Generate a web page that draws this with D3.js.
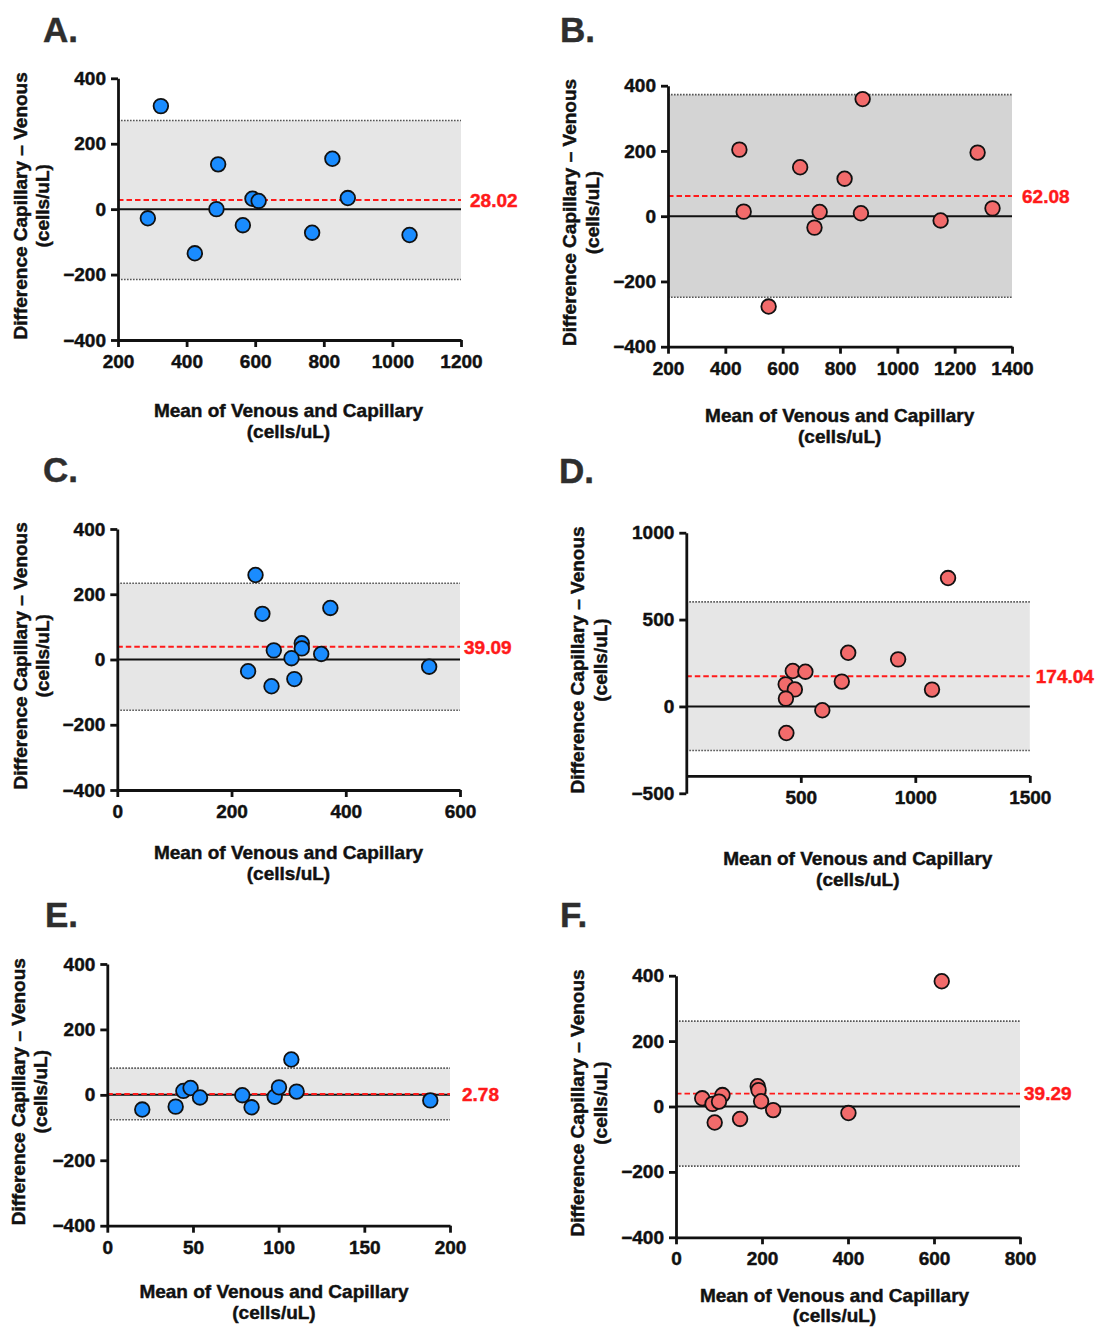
<!DOCTYPE html>
<html><head><meta charset="utf-8">
<script src="https://cdn.jsdelivr.net/npm/d3@7"></script>
<style>
html,body{margin:0;padding:0;background:#fff;}
svg text{font-family:"Liberation Sans",Arial,Helvetica,sans-serif;font-weight:bold;}
</style></head><body>
<svg id="fig" width="1102" height="1337"></svg>
<script>
// ---------------- DATA ----------------
const panelLetters = ["A.", "B.", "C.", "D.", "E.", "F."];
const xTitleLines = ["Mean of Venous and Capillary", "(cells/uL)"];
const yTitleLines = ["Difference Capillary \u2013 Venous", "(cells/uL)"];

// x = mean of venous & capillary, y = difference capillary - venous
const aMeans = [287, 325, 424, 492, 487, 564, 592, 610, 766, 825, 870, 1050];
const aDiffs = [-28, 315, -135, 137, 0, -49, 32, 25, -72, 154, 34, -79];
const bMeans = [449, 464, 551, 661, 711, 729, 816, 879, 873, 1151, 1280, 1332];
const bDiffs = [204, 14, -277, 150, -35, 13, 115, 359, 9, -13, 195, 24];
const cMeans = [242, 254, 373, 323, 323, 274, 305, 357, 229, 270, 310, 546];
const cDiffs = [259, 140, 158, 50, 34, 28, 4, 17, -36, -82, -60, -22];
const dMeans = [1143, 707, 925, 465, 520, 679, 434, 474, 1073, 435, 594, 437];
const dDiffs = [739, 309, 271, 204, 200, 143, 127, 98, 97, 45, -22, -153];
const eMeans = [20.4, 39.9, 44.4, 48.6, 54.1, 78.8, 84.2, 97.7, 100.2, 107.4, 110.5, 188.5];
const eDiffs = [-45, -36, 12, 21, -8, -1, -38, -6, 23, 108, 10, -17];
const fMeans = [618, 190, 192, 108, 61, 85, 100, 198, 226, 90, 149, 401];
const fDiffs = [383, 62, 50, 35, 25, 8, 15, 16, -11, -49, -38, -20];

const biasValues = [28.02, 62.08, 39.09, 174.04, 2.78, 39.29];
const biasLabels = ["28.02", "62.08", "39.09", "174.04", "2.78", "39.29"];
const upperLimits = [271, 372.7, 233.7, 602, 81.8, 261];
const lowerLimits = [-215, -248.5, -155.5, -254, -76.2, -182.4];

const xDomains = [[200, 1200], [200, 1400], [0, 600], [0, 1500], [0, 200], [0, 800]];
const yDomains = [[-400, 400], [-400, 400], [-400, 400], [-500, 1000], [-400, 400], [-400, 400]];
const xTickValues = [
  [200, 400, 600, 800, 1000, 1200],
  [200, 400, 600, 800, 1000, 1200, 1400],
  [0, 200, 400, 600],
  [500, 1000, 1500],
  [0, 50, 100, 150, 200],
  [0, 200, 400, 600, 800]
];
const yTickValues = [
  [-400, -200, 0, 200, 400],
  [-400, -200, 0, 200, 400],
  [-400, -200, 0, 200, 400],
  [-500, 0, 500, 1000],
  [-400, -200, 0, 200, 400],
  [-400, -200, 0, 200, 400]
];
const xAxisCrossing = [-400, -400, -400, -400, -400, -400];

// ---------------- LAYOUT / STYLE ----------------
const panelData = [
  [aMeans, aDiffs], [bMeans, bDiffs], [cMeans, cDiffs],
  [dMeans, dDiffs], [eMeans, eDiffs], [fMeans, fDiffs]
];
const layout = [
  {x0:118,   x1:461,   yb:340,    yt:78.3,  lx:43,  lb:42,  xt:288.5, xb1:417,  xb2:438,  yc:205.8, ya1:27,    ya2:49,  lblOff:9,  fill:"#1a8cff", shade:"#e6e6e6"},
  {x0:668,   x1:1012,  yb:346.7,  yt:85.7,  lx:560, lb:42,  xt:839.7, xb1:421.5,xb2:443,  yc:212.5, ya1:576,   ya2:599, lblOff:10, fill:"#f26b6b", shade:"#d4d4d4"},
  {x0:117.3, x1:460,   yb:790,    yt:529,   lx:43,  lb:482, xt:288.5, xb1:859,  xb2:880,  yc:655.8, ya1:27,    ya2:49,  lblOff:4,  fill:"#1a8cff", shade:"#e6e6e6"},
  {x0:686.3, x1:1029.8,yb:793.3,  yt:532.7, lx:559, lb:483, xt:857.8, xb1:865,  xb2:886,  yc:660,   ya1:583.5, ya2:607, lblOff:6,  fill:"#f26b6b", shade:"#e6e6e6"},
  {x0:107.3, x1:450,   yb:1225.7, yt:964,   lx:45,  lb:927, xt:274,   xb1:1298, xb2:1319, yc:1091.7,ya1:25,    ya2:47,  lblOff:12, fill:"#1a8cff", shade:"#e6e6e6"},
  {x0:676,   x1:1020,  yb:1237.3, yt:975.7, lx:560, lb:927, xt:834.5, xb1:1302, xb2:1322, yc:1103,  ya1:583.5, ya2:607, lblOff:4,  fill:"#f26b6b", shade:"#e6e6e6"}
];

const svg = d3.select("#fig");
const fmt = d3.format("d");
const heavy = sel => sel.attr("stroke", sel.attr("fill")).attr("stroke-width", 0.45);

layout.forEach((L, i) => {
  const g = svg.append("g");
  const x = d3.scaleLinear().domain(xDomains[i]).range([L.x0, L.x1]);
  const y = d3.scaleLinear().domain(yDomains[i]).range([L.yb, L.yt]);
  const [xs, ys] = panelData[i];
  const xA = x.domain()[0], xB = x.domain()[1];

  // panel letter
  g.append("text").attr("x", L.lx).attr("y", L.lb)
    .attr("font-size", 35).attr("fill", "#2e2e2e").text(panelLetters[i]).call(heavy);

  // limits of agreement band
  g.append("rect")
    .attr("x", x(xA)).attr("width", x(xB) - x(xA))
    .attr("y", y(upperLimits[i])).attr("height", y(lowerLimits[i]) - y(upperLimits[i]))
    .attr("fill", L.shade);
  [upperLimits[i], lowerLimits[i]].forEach(v => {
    g.append("line").attr("x1", x(xA)).attr("x2", x(xB))
      .attr("y1", y(v)).attr("y2", y(v))
      .attr("stroke", "#555").attr("stroke-width", 1.6)
      .attr("stroke-dasharray", "1.6,1.4");
  });
  // zero line
  g.append("line").attr("x1", x(xA)).attr("x2", x(xB))
    .attr("y1", y(0)).attr("y2", y(0))
    .attr("stroke", "#111").attr("stroke-width", 2);
  // bias line
  g.append("line").attr("x1", x(xA)).attr("x2", x(xB))
    .attr("y1", y(biasValues[i])).attr("y2", y(biasValues[i]))
    .attr("stroke", "#ff1a1a").attr("stroke-width", 1.9)
    .attr("stroke-dasharray", "5.5,3");
  g.append("text").attr("x", x(xB) + L.lblOff).attr("y", y(biasValues[i]))
    .attr("dy", "0.36em").attr("font-size", 19).attr("fill", "#ff1a1a")
    .text(biasLabels[i]).call(heavy);

  // points
  g.append("g").selectAll("circle").data(xs.map((v, k) => [v, ys[k]]))
    .join("circle")
    .attr("cx", d => x(d[0])).attr("cy", d => y(d[1])).attr("r", 7.3)
    .attr("fill", L.fill).attr("stroke", "#111").attr("stroke-width", 1.8);

  // axes
  const yAx = g.append("g").attr("transform", `translate(${L.x0},0)`)
    .call(d3.axisLeft(y).tickValues(yTickValues[i]).tickFormat(fmt)
      .tickSize(7).tickSizeOuter(0).tickPadding(5));
  const xAx = g.append("g").attr("transform", `translate(0,${y(xAxisCrossing[i])})`)
    .call(d3.axisBottom(x).tickValues(xTickValues[i]).tickFormat(fmt)
      .tickSize(7).tickSizeOuter(0).tickPadding(7.5));
  [yAx, xAx].forEach(ax => {
    ax.select(".domain").attr("stroke", "#111").attr("stroke-width", 2.8);
    ax.selectAll(".tick line").attr("stroke", "#111").attr("stroke-width", 2.8);
    ax.selectAll(".tick text").attr("font-size", 19).attr("fill", "#111")
      .attr("stroke", "#111").attr("stroke-width", 0.45).attr("font-family", null);
  });

  // axis titles
  g.append("text").attr("x", L.xt).attr("y", L.xb1).attr("text-anchor", "middle")
    .attr("font-size", 19).attr("fill", "#111").text(xTitleLines[0]).call(heavy);
  g.append("text").attr("x", L.xt).attr("y", L.xb2).attr("text-anchor", "middle")
    .attr("font-size", 19).attr("fill", "#111").text(xTitleLines[1]).call(heavy);
  g.append("text").attr("transform", `translate(${L.ya1},${L.yc}) rotate(-90)`)
    .attr("text-anchor", "middle").attr("font-size", 19).attr("fill", "#111").text(yTitleLines[0]).call(heavy);
  g.append("text").attr("transform", `translate(${L.ya2},${L.yc}) rotate(-90)`)
    .attr("text-anchor", "middle").attr("font-size", 19).attr("fill", "#111").text(yTitleLines[1]).call(heavy);
});
</script>
</body></html>
